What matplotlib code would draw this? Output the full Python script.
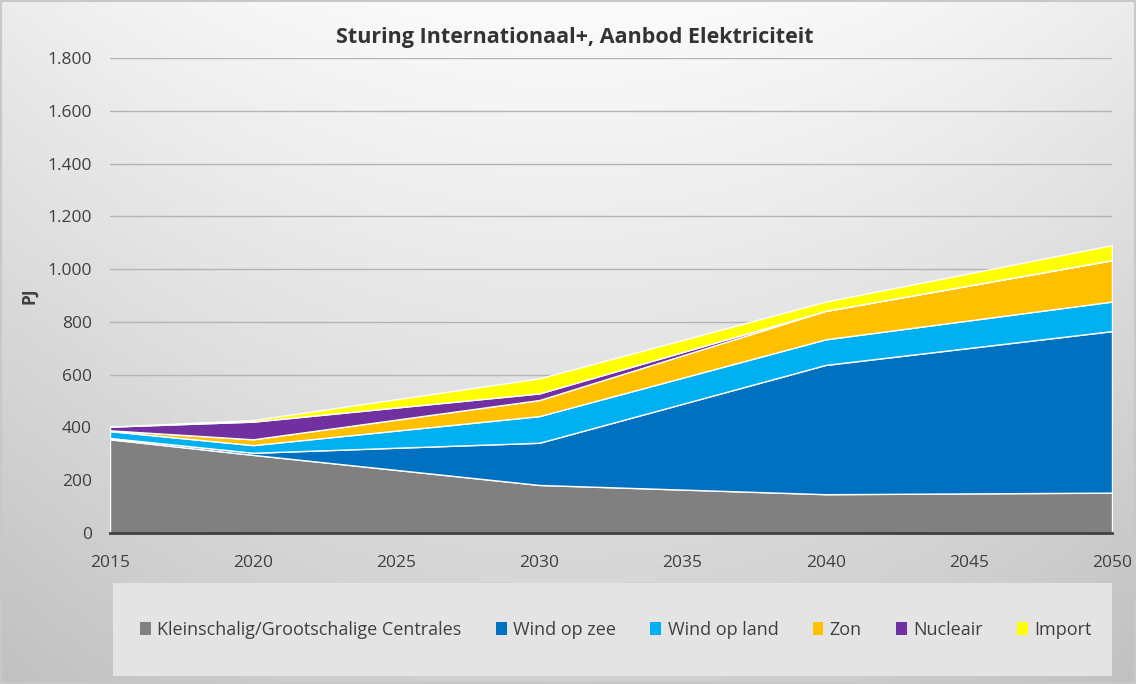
import numpy as np
import matplotlib
matplotlib.use("Agg")
import matplotlib.pyplot as plt
from matplotlib.patches import Rectangle, Patch
from matplotlib.ticker import FuncFormatter

years = [2015, 2020, 2030, 2040, 2050]
centrales = [355, 296, 182, 147, 153]
wind_zee = [5, 8, 160, 490, 612]
wind_land = [26, 29, 101, 97, 112]
zon = [3, 22, 61, 108, 157]
nucleair = [14, 67, 25, 0, 0]
import_ = [0, 6, 57, 35, 57]

labels = ["Kleinschalig/Grootschalige Centrales", "Wind op zee", "Wind op land",
          "Zon", "Nucleair", "Import"]
colors = ["#808080", "#0070C0", "#00B0F0", "#FFC000", "#7030A0", "#FFFF00"]
title = "Sturing Internationaal+, Aanbod Elektriciteit"
xticks = [2015, 2020, 2025, 2030, 2035, 2040, 2045, 2050]

plt.rcParams['font.family'] = ['Open Sans', 'DejaVu Sans']

W, H = 1136, 684
fig = plt.figure(figsize=(W/100, H/100), dpi=100)

# background gradient
bg = fig.add_axes([0, 0, 1, 1], zorder=-10)
yy, xx = np.mgrid[0:1:200j, 0:1:300j]
val = 0.985 - 0.17 * yy - 0.06 * ((xx - 0.5) * 2) ** 2
img = np.dstack([val, val, val])
bg.imshow(img, extent=[0, 1, 0, 1], aspect='auto', origin='upper')
bg.set_xlim(0, 1); bg.set_ylim(0, 1)
bg.axis('off')
bg.add_patch(Rectangle((0.001, 0.001), 0.998, 0.998, fill=False, ec="#c8c8c8", lw=1.5))
# legend box
bg.add_patch(Rectangle((113/W, 1 - 676/H), (1112-113)/W, (676-583)/H,
                       fc="#e4e4e4", ec="none"))

ax = fig.add_axes([110/W, 1 - 533/H, (1112-110)/W, (533-58)/H])
ax.patch.set_alpha(0)
ax.stackplot(years, centrales, wind_zee, wind_land, zon, nucleair, import_,
             colors=colors, edgecolor="white", linewidth=1.0, zorder=3)
ax.set_xlim(2015, 2050)
ax.set_ylim(0, 1800)
ax.set_yticks(np.arange(0, 1801, 200))
ax.yaxis.set_major_formatter(FuncFormatter(lambda v, p: f"{int(v):,}".replace(",", ".")))
ax.set_xticks(xticks)
ax.grid(axis='y', color="#b4b4b4", lw=1, zorder=0)
for s in ["top", "right", "left"]:
    ax.spines[s].set_visible(False)
ax.spines["bottom"].set_color("#404040")
ax.spines["bottom"].set_linewidth(2)
ax.spines["bottom"].set_zorder(5)
ax.tick_params(axis='both', length=0, labelsize=12.5, colors="#404040")
ax.tick_params(axis='x', pad=16)
ax.tick_params(axis='y', pad=13)
ax.set_ylabel("PJ", fontsize=12.5, fontweight='bold', color="#404040")
ax.yaxis.set_label_coords((38 - 110) / 1002, 0.5)

fig.text(575/W, 1 - 37/H, title, ha='center', va='center', fontsize=15.5,
         fontweight='bold', color="#333333")

handles = [Patch(facecolor=c, edgecolor='none') for c in colors]
leg = fig.legend(handles, labels, loc='center', bbox_to_anchor=(616/W, 1 - 630/H),
                 ncol=6, frameon=False, fontsize=13, handlelength=0.6, handleheight=0.7,
                 handletextpad=0.35, columnspacing=1.9, labelcolor="#404040")

fig.savefig("out.png", dpi=100)
